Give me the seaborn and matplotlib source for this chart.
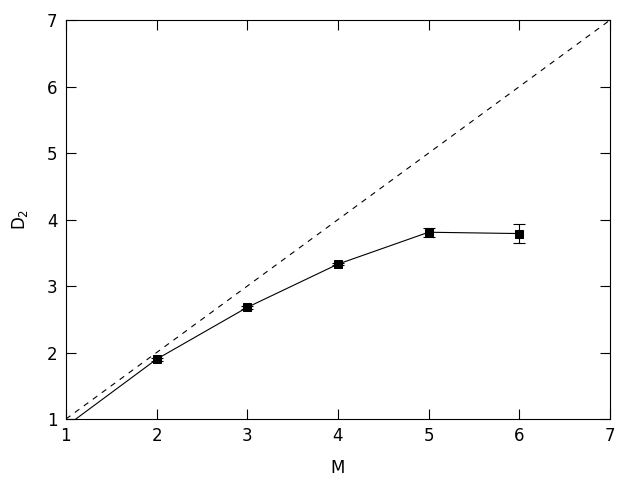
import numpy as np
import pandas as pd
import matplotlib
matplotlib.use('Agg')
import matplotlib.pyplot as plt
import seaborn as sns

# embedding dimension vs correlation dimension
m_vals = [1, 2, 3, 4, 5, 6]
d2_vals = [0.89, 1.90, 2.68, 3.33, 3.81, 3.79]
d2_err = [0.02, 0.02, 0.02, 0.02, 0.07, 0.14]
diag = [1, 7]

df = pd.DataFrame({'M': m_vals, 'D2': d2_vals, 'err': d2_err})

sns.set_style('ticks', {'axes.edgecolor': 'black', 'text.color': 'black',
                        'axes.labelcolor': 'black', 'xtick.color': 'black',
                        'ytick.color': 'black'})
plt.rcParams['font.family'] = ['DejaVu Sans']

fig = plt.figure(figsize=(6.4, 4.8), dpi=100)
ax = fig.add_axes([0.103, 0.127, 0.850, 0.831])

sns.lineplot(x=diag, y=diag, ax=ax, color='black', linewidth=0.8,
             linestyle=(0, (5, 5)))
sns.lineplot(data=df, x='M', y='D2', ax=ax, color='black', linewidth=0.8,
             marker='s', markersize=5.5, markeredgecolor='black')
ax.errorbar(df['M'], df['D2'], yerr=df['err'], fmt='none', ecolor='black',
            elinewidth=0.8, capsize=4, capthick=0.8)

ax.set_xlim(1, 7)
ax.set_ylim(1, 7)
ax.set_xticks(range(1, 8))
ax.set_yticks(range(1, 8))
ax.tick_params(direction='in', length=7, width=0.8, top=True, right=True,
               labelsize=12, pad=6, colors='black')
for s in ax.spines.values():
    s.set_linewidth(0.8)
ax.set_xlabel('M', fontsize=12, labelpad=10)
ax.set_ylabel('D$_2$', fontsize=12, labelpad=12)

fig.savefig('out.png', dpi=100)
